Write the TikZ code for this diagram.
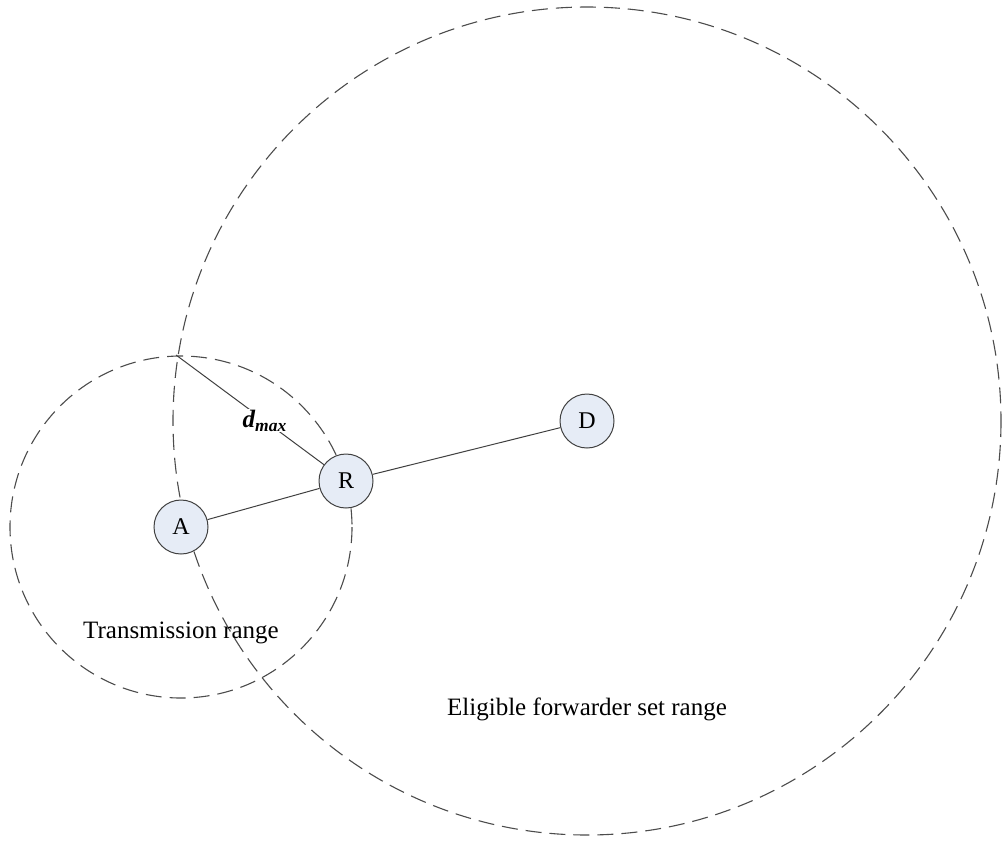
\documentclass[tikz,border=0pt]{standalone}
\usepackage{fontspec}
\setmainfont{Liberation Serif}
\definecolor{stationfill}{RGB}{230,236,246}
\begin{document}
\begin{tikzpicture}[x=1pt,y=-1pt,
  rangecircle/.style={draw=black!70, line width=1.1pt, dash pattern=on 16pt off 8pt},
  station/.style={circle, draw=black!75, line width=1pt, fill=stationfill, minimum size=54pt, inner sep=0pt, font=\fontsize{24}{27}\selectfont},
  link/.style={draw=black!75, line width=1pt},
  caption/.style={font=\fontsize{25}{28}\selectfont}]
\useasboundingbox (0,0) rectangle (1003,841);
% coverage ranges
\draw[rangecircle] (181,527) circle (171);
\draw[rangecircle] (587,421) circle (414);
% stations
\node[station] (A) at (181,527) {A};
\node[station] (R) at (346,481) {R};
\node[station] (D) at (587,421) {D};
\coordinate (X) at (176,355);
% links
\draw[link] (A) -- (R);
\draw[link] (R) -- (D);
\draw[link] (X) -- (R) node[pos=0.6, fill=white, inner sep=1pt, font=\fontsize{25}{28}\selectfont\bfseries\itshape] (dm) {d\textsubscript{max}};
% labels
\node[caption] (tr) at (181,633) {Transmission range};
\node[caption] (ef) at (587,709) {Eligible forwarder set range};
\end{tikzpicture}
\end{document}
